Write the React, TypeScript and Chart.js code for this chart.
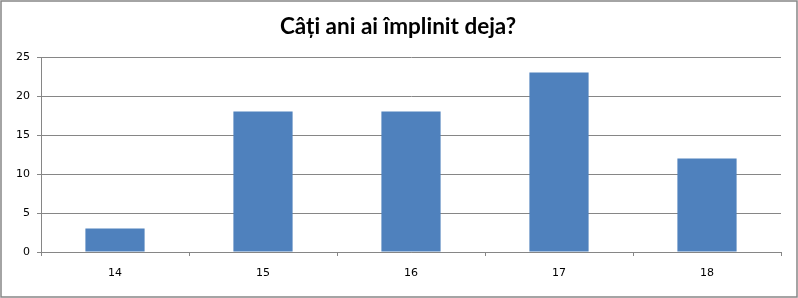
import React, { useEffect, useRef } from "react";
import { Chart, registerables } from "chart.js";

Chart.register(...registerables);

const TITLE = "Câți ani ai împlinit deja?";
const ages = ["14", "15", "16", "17", "18"];
const counts = [3, 18, 18, 23, 12];
const yTicks = [0, 5, 10, 15, 20, 25];

const AXIS_GRAY = "#868686";
const BAR_BLUE = "#4F81BD";

// Draws the outer frame and the centred title
const framePlugin = {
  id: "frame",
  afterDraw(chart: any) {
    const { ctx, width, height } = chart;
    ctx.save();
    ctx.strokeStyle = AXIS_GRAY;
    ctx.lineWidth = 1.5;
    ctx.strokeRect(1, 1, width - 2, height - 2);
    ctx.fillStyle = "#000";
    ctx.font = "bold 22.5px Lato";
    ctx.textAlign = "center";
    ctx.textBaseline = "middle";
    ctx.fillText(TITLE, 398, 27);
    ctx.restore();
  },
};

export default function App() {
  const ref = useRef<HTMLCanvasElement>(null);

  useEffect(() => {
    document.body.style.margin = "0";
    if (!ref.current) return;
    const chart = new Chart(ref.current, {
      type: "bar",
      data: {
        labels: ages,
        datasets: [
          {
            data: counts,
            backgroundColor: BAR_BLUE,
            borderWidth: 0,
            barPercentage: 0.4,
            categoryPercentage: 1,
          },
        ],
      },
      options: {
        responsive: false,
        animation: false,
        layout: { padding: { left: 0, right: 17, top: 57, bottom: 0 } },
        plugins: {
          legend: { display: false },
          title: { display: false },
          tooltip: { enabled: false },
        },
        scales: {
          x: {
            grid: {
              offset: true,
              drawOnChartArea: false,
              drawTicks: true,
              tickLength: 4,
              color: AXIS_GRAY,
            },
            border: { color: AXIS_GRAY },
            ticks: {
              color: "#000",
              padding: 11,
              font: { family: "DejaVu Sans", size: 11 },
            },
            afterFit(scale: any) {
              scale.height = 46;
            },
          },
          y: {
            min: 0,
            max: 25,
            afterBuildTicks(scale: any) {
              scale.ticks = yTicks.map((v) => ({ value: v }));
            },
            grid: {
              drawTicks: true,
              tickLength: 4,
              color: AXIS_GRAY,
            },
            border: { color: AXIS_GRAY },
            ticks: {
              color: "#000",
              padding: 7,
              font: { family: "DejaVu Sans", size: 11 },
            },
            afterFit(scale: any) {
              scale.width = 41;
            },
          },
        },
      },
      plugins: [framePlugin],
    });
    return () => chart.destroy();
  }, []);

  return <canvas ref={ref} width={798} height={298} style={{ display: "block" }} />;
}
